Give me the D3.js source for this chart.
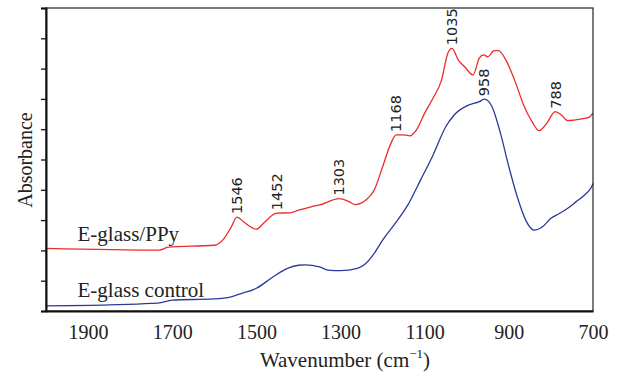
<!DOCTYPE html>
<html>
<head>
<meta charset="utf-8">
<script src="https://cdn.jsdelivr.net/npm/d3@7"></script>
<style>
  body { margin: 0; background: #fff; }
  svg { display: block; }
  .serif { font-family: "Liberation Serif", "DejaVu Serif", serif; fill: #222; }
  .peak { font-family: "DejaVu Sans", sans-serif; fill: #222; }
</style>
</head>
<body>
<svg id="chart" width="618" height="378"></svg>
<script>
// wavenumber (cm-1), high to low
const ppyWave = [2000, 1730, 1710, 1600, 1580, 1560, 1546, 1530, 1500, 1480, 1452, 1420, 1400, 1370, 1350,
    1303, 1280, 1265, 1240, 1220, 1200, 1180, 1168, 1150, 1135, 1120, 1100, 1080, 1060, 1045, 1035, 1020,
    1005, 985, 970, 960, 950, 935, 925, 905, 885, 865, 845, 828, 810, 790, 775, 760, 745, 720, 710, 700];
const ppyAbs = [2.07, 2.01, 2.11, 2.17, 2.34, 2.77, 3.10, 2.94, 2.70, 2.94, 3.23, 3.24, 3.33, 3.44, 3.50,
    3.71, 3.61, 3.51, 3.66, 3.99, 4.76, 5.54, 5.81, 5.81, 5.78, 5.97, 6.53, 7.03, 7.62, 8.51, 8.67, 8.28,
    8.06, 7.79, 8.35, 8.45, 8.39, 8.59, 8.59, 8.23, 7.57, 6.80, 6.25, 5.95, 6.19, 6.58, 6.47, 6.28, 6.30, 6.36, 6.39, 6.53];

const ctrlWave = [2000, 1850, 1750, 1730, 1700, 1600, 1560, 1540, 1500, 1460, 1430, 1400, 1385, 1350, 1330,
    1300, 1260, 1240, 1220, 1200, 1170, 1140, 1110, 1080, 1050, 1030, 1000, 970, 958, 940, 920, 900,
    880, 860, 840, 820, 800, 780, 760, 740, 720, 705, 700];
const ctrlAbs = [0.17, 0.20, 0.25, 0.27, 0.36, 0.40, 0.47, 0.56, 0.75, 1.13, 1.38, 1.51, 1.52, 1.46, 1.35,
    1.33, 1.41, 1.57, 1.90, 2.34, 2.89, 3.50, 4.32, 5.15, 6.08, 6.47, 6.77, 6.91, 6.99, 6.74, 5.87, 4.76,
    3.77, 3.00, 2.67, 2.78, 3.06, 3.22, 3.39, 3.61, 3.83, 4.06, 4.21];

// peak annotations: [wavenumber, label, series]
const peakLabels = [
    [1546, "1546", "ppy"], [1452, "1452", "ppy"], [1303, "1303", "ppy"], [1168, "1168", "ppy"],
    [1035, "1035", "ppy"], [958, "958", "ctrl"], [788, "788", "ppy"]
];
const xTicks = [1900, 1700, 1500, 1300, 1100, 900, 700];
const seriesNames = ["E-glass/PPy", "E-glass control"];

const margin = { top: 8, right: 25, bottom: 67, left: 46 };
const width = 618 - margin.left - margin.right;
const height = 378 - margin.top - margin.bottom;

const svg = d3.select("#chart");
const g = svg.append("g").attr("transform", `translate(${margin.left},${margin.top})`);

const x = d3.scaleLinear().domain([2000, 700]).range([0, width]);
const y = d3.scaleLinear().domain([0, 10]).range([height, 0]);

const ppy = ppyWave.map((w, i) => ({ w: w, a: ppyAbs[i] }));
const ctrl = ctrlWave.map((w, i) => ({ w: w, a: ctrlAbs[i] }));

const line = d3.line()
    .x(d => x(d.w))
    .y(d => y(d.a))
    .curve(d3.curveMonotoneX);

g.append("path").datum(ctrl)
    .attr("fill", "none")
    .attr("stroke", "#2b3a9a")
    .attr("stroke-width", 1.3)
    .attr("d", line);

g.append("path").datum(ppy)
    .attr("fill", "none")
    .attr("stroke", "#ee2a2a")
    .attr("stroke-width", 1.3)
    .attr("d", line);

// frame
g.append("rect")
    .attr("width", width)
    .attr("height", height)
    .attr("fill", "none")
    .attr("stroke", "#222")
    .attr("stroke-width", 1.2);

// y axis: ticks only
const yAxis = g.append("g")
    .call(d3.axisLeft(y).ticks(10).tickSize(5).tickFormat(""));
yAxis.select(".domain").attr("stroke", "#111").attr("stroke-width", 2);
yAxis.selectAll(".tick line").attr("stroke", "#111").attr("stroke-width", 1.3);

// x axis: labels only
const xAxis = g.append("g")
    .attr("transform", `translate(0,${height})`)
    .call(d3.axisBottom(x).tickValues(xTicks).tickSize(0).tickPadding(14).tickFormat(d3.format("d")));
xAxis.select(".domain").attr("stroke", "#111").attr("stroke-width", 2);
xAxis.selectAll("text")
    .attr("class", "serif")
    .style("font-size", "20px")
    .attr("fill", "#222");

// axis titles
const xTitle = svg.append("text")
    .attr("class", "serif")
    .attr("x", 345)
    .attr("y", 367)
    .attr("text-anchor", "middle")
    .style("font-size", "21px");
xTitle.append("tspan").text("Wavenumber (cm");
xTitle.append("tspan").text("\u22121").attr("dy", -9).style("font-size", "13px");
xTitle.append("tspan").text(")").attr("dy", 9);

svg.append("text")
    .attr("class", "serif")
    .attr("transform", `translate(32,${margin.top + 152}) rotate(-90)`)
    .attr("text-anchor", "middle")
    .style("font-size", "20px")
    .text("Absorbance");

// series labels
g.append("text")
    .attr("class", "serif")
    .attr("x", x(1925))
    .attr("y", y(2.3))
    .style("font-size", "21px")
    .text(seriesNames[0]);
g.append("text")
    .attr("class", "serif")
    .attr("x", x(1925))
    .attr("y", y(0.45))
    .style("font-size", "21px")
    .text(seriesNames[1]);

// peak labels, rotated
peakLabels.forEach(([w, label, s]) => {
    const data = s === "ppy" ? ppy : ctrl;
    const val = data.find(d => d.w === w) || data.reduce((a, b) => Math.abs(b.w - w) < Math.abs(a.w - w) ? b : a);
    g.append("text")
        .attr("class", "peak")
        .attr("transform", `translate(${x(w) + 5},${y(val.a) - 3}) rotate(-90)`)
        .style("font-size", "14.5px")
        .text(label);
});
</script>
</body>
</html>
